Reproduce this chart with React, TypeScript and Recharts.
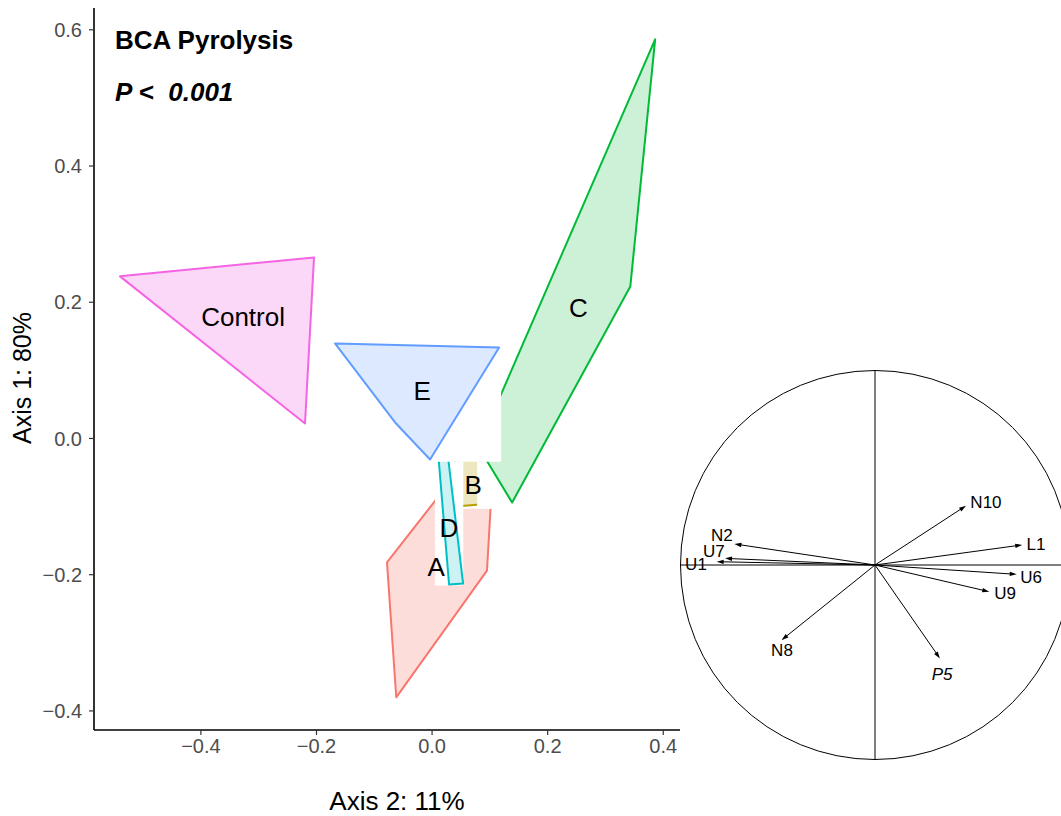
import { ScatterChart, Scatter, XAxis, YAxis, ReferenceLine } from "recharts";

const FONT = "'Liberation Sans', Arial, Helvetica, sans-serif";

// hull vertices, x = Axis 2, y = Axis 1
const hullA = [
  { x: -0.078, y: -0.182 },
  { x: -0.062, y: -0.38 },
  { x: 0.095, y: -0.194 },
  { x: 0.102, y: -0.091 },
  { x: 0.014, y: -0.082 },
];
const hullB = [
  { x: 0.04, y: 0.026 },
  { x: 0.083, y: 0.026 },
  { x: 0.083, y: -0.097 },
  { x: 0.04, y: -0.1 },
];
const hullC = [
  { x: 0.386, y: 0.586 },
  { x: 0.343, y: 0.223 },
  { x: 0.1385, y: -0.094 },
  { x: 0.08, y: -0.012 },
];
const hullD = [
  { x: 0.0087, y: -0.003 },
  { x: 0.0242, y: -0.003 },
  { x: 0.0537, y: -0.213 },
  { x: 0.0294, y: -0.2144 },
];
const hullE = [
  { x: -0.168, y: 0.1395 },
  { x: 0.116, y: 0.1336 },
  { x: -0.0035, y: -0.0308 },
  { x: -0.064, y: 0.0235 },
];
const hullControl = [
  { x: -0.54, y: 0.238 },
  { x: -0.2043, y: 0.2658 },
  { x: -0.2199, y: 0.022 },
];

// white label boxes that cover parts of the hulls: [x1, x2, y1, y2]
const box1 = [0.007, 0.1195, -0.034, 0.1];
const box2 = [0.078, 0.104, -0.103, -0.034];
const box3 = [0.005, 0.054, -0.216, -0.034];
const box4 = [0.005, 0.104, -0.103, -0.034];

const groupNames = ["Control", "E", "C", "B", "D", "A"];
const groupLabelX = [-0.327, -0.017, 0.253, 0.071, 0.029, 0.007];
const groupLabelY = [0.179, 0.069, 0.192, -0.069, -0.132, -0.189];

const xTicks = [-0.4, -0.2, 0, 0.2, 0.4];
const yTicks = [-0.4, -0.2, 0, 0.2, 0.4, 0.6];

// correlation circle
const loadingNames = ["N10", "L1", "U6", "U9", "P5", "N8", "U1", "U7", "N2"];
const loadingX = [0.467, 0.755, 0.727, 0.586, 0.333, -0.479, -0.812, -0.769, -0.721];
const loadingY = [0.304, 0.103, -0.048, -0.137, -0.479, -0.385, 0.017, 0.034, 0.108];
const loadingLabelX = [0.569, 0.826, 0.8, 0.667, 0.344, -0.477, -0.918, -0.826, -0.785];
const loadingLabelY = [0.323, 0.103, -0.062, -0.144, -0.564, -0.441, 0.004, 0.069, 0.153];

const boxPoints = (b: number[]) => [
  { x: b[0], y: b[2] },
  { x: b[1], y: b[2] },
  { x: b[1], y: b[3] },
  { x: b[0], y: b[3] },
];

// drawing order matters: the white boxes sit between some hulls
const layers = [
  { key: "A", pts: hullA, color: "#F8766D", fill: 0.25 },
  { key: "box4", pts: boxPoints(box4), color: "none", fill: 1 },
  { key: "B", pts: hullB, color: "#B79F00", fill: 0.25 },
  { key: "box2", pts: boxPoints(box2), color: "none", fill: 1 },
  { key: "box3", pts: boxPoints(box3), color: "none", fill: 1 },
  { key: "C", pts: hullC, color: "#00BA38", fill: 0.2 },
  { key: "D", pts: hullD, color: "#00BFC4", fill: 0.2 },
  { key: "box1", pts: boxPoints(box1), color: "none", fill: 1 },
  { key: "E", pts: hullE, color: "#619CFF", fill: 0.22 },
  { key: "Control", pts: hullControl, color: "#F564E3", fill: 0.25 },
];

const groupLabels = groupNames.map((name, i) => ({ name, x: groupLabelX[i], y: groupLabelY[i] }));
const loadingLabels = loadingNames.map((name, i) => ({ name, x: loadingLabelX[i], y: loadingLabelY[i] }));

const Nothing = () => <g />;

const polygonLine = (color: string, fill: number) => (p: any) => {
  const pts = (p.points || []).map((q: any) => `${q.x},${q.y}`).join(" ");
  if (color === "none") return <polygon points={pts} fill="#ffffff" stroke="none" />;
  return (
    <polygon points={pts} fill={color} fillOpacity={fill} stroke={color} strokeWidth={2} strokeLinejoin="round" />
  );
};

const circleLine = (p: any) => {
  const [c, e] = p.points;
  const r = Math.hypot(e.x - c.x, e.y - c.y);
  return <circle cx={c.x} cy={c.y} r={r - 0.5} fill="none" stroke="#000" strokeWidth={1} />;
};

const arrowLine = (p: any) => {
  const [a, b] = p.points;
  const dx = b.x - a.x;
  const dy = b.y - a.y;
  const len = Math.hypot(dx, dy);
  const ux = dx / len;
  const uy = dy / len;
  const hl = 7;
  const hw = 2.2;
  const bx = b.x - ux * hl;
  const by = b.y - uy * hl;
  const head = `${b.x},${b.y} ${bx - uy * hw},${by + ux * hw} ${bx + uy * hw},${by - ux * hw}`;
  return (
    <g>
      <line x1={a.x} y1={a.y} x2={bx + ux * 2} y2={by + uy * 2} stroke="#000" strokeWidth={1} />
      <polygon points={head} fill="#000" />
    </g>
  );
};

const GroupText = (props: any) => (
  <text x={props.cx} y={props.cy} textAnchor="middle" dominantBaseline="central" fontSize={26} fontFamily={FONT} fill="#000">
    {props.payload.name}
  </text>
);

const LoadingText = (props: any) => (
  <text
    x={props.cx}
    y={props.cy}
    textAnchor="middle"
    dominantBaseline="central"
    fontSize={17}
    fontFamily={FONT}
    fontStyle={props.payload.name === "P5" ? "italic" : "normal"}
    fill="#000"
  >
    {props.payload.name}
  </text>
);

const fmt = (v: number) => v.toFixed(1).replace("-", "\u2212");

const XTitle = (props: any) => {
  const vb = props.viewBox;
  return (
    <text x={vb.x + vb.width / 2 + 10} y={vb.y + vb.height - 6} textAnchor="middle" fontSize={26} fontFamily={FONT} fill="#000">
      Axis 2: 11%
    </text>
  );
};

const YTitle = (props: any) => {
  const vb = props.viewBox;
  const cx = vb.x + 22;
  const cy = vb.y + vb.height / 2 + 9;
  return (
    <text x={cx} y={cy} transform={`rotate(-90, ${cx}, ${cy})`} textAnchor="middle" dominantBaseline="central" fontSize={25} fontFamily={FONT} fill="#000">
      Axis 1: 80%
    </text>
  );
};

const tickStyle = { fill: "#4D4D4D", fontSize: 20, fontFamily: FONT };

export default function App() {
  return (
    <div style={{ position: "fixed", left: 0, top: 0, width: 1061, height: 816, overflow: "hidden", background: "#fff" }}>
      <div style={{ position: "absolute", left: 0, top: 0 }}>
        <ScatterChart width={690} height={816} margin={{ top: 8, right: 10, left: 0, bottom: 0 }}>
          <XAxis
            type="number"
            dataKey="x"
            domain={[-0.585, 0.429]}
            allowDataOverflow
            ticks={xTicks}
            tickFormatter={fmt}
            height={86}
            tick={tickStyle}
            tickSize={5}
            tickMargin={4}
            axisLine={{ stroke: "#000", strokeWidth: 1.6 }}
            tickLine={{ stroke: "#333", strokeWidth: 1.2 }}
            label={{ content: XTitle }}
          />
          <YAxis
            type="number"
            dataKey="y"
            domain={[-0.428, 0.632]}
            allowDataOverflow
            ticks={yTicks}
            tickFormatter={fmt}
            width={94}
            tick={tickStyle}
            tickSize={5}
            tickMargin={7}
            axisLine={{ stroke: "#000", strokeWidth: 1.6 }}
            tickLine={{ stroke: "#333", strokeWidth: 1.2 }}
            label={{ content: YTitle }}
          />
          {layers.map((l) => (
            <Scatter
              key={l.key}
              data={l.pts}
              shape={Nothing}
              line={polygonLine(l.color, l.fill)}
              isAnimationActive={false}
            />
          ))}
          <Scatter data={groupLabels} shape={GroupText} isAnimationActive={false} />
        </ScatterChart>
      </div>
      <div style={{ position: "absolute", left: 115, top: 26, fontFamily: FONT, fontWeight: "bold", fontSize: 26, lineHeight: "28px" }}>
        BCA Pyrolysis
      </div>
      <div
        style={{
          position: "absolute",
          left: 115,
          top: 78,
          fontFamily: FONT,
          fontWeight: "bold",
          fontStyle: "italic",
          fontSize: 26,
          lineHeight: "28px",
          whiteSpace: "pre",
        }}
      >
        {"P <  0.001"}
      </div>
      <div style={{ position: "absolute", left: 680, top: 370 }}>
        <ScatterChart width={390} height={390} margin={{ top: 0, right: 0, left: 0, bottom: 0 }}>
          <XAxis type="number" dataKey="x" domain={[-1, 1]} hide />
          <YAxis type="number" dataKey="y" domain={[-1, 1]} hide />
          <ReferenceLine x={0} stroke="#000" strokeWidth={1} />
          <ReferenceLine y={0} stroke="#000" strokeWidth={1} />
          <Scatter
            data={[
              { x: 0, y: 0 },
              { x: 1, y: 0 },
            ]}
            shape={Nothing}
            line={circleLine}
            isAnimationActive={false}
          />
          {loadingNames.map((n, i) => (
            <Scatter
              key={n}
              data={[
                { x: 0, y: 0 },
                { x: loadingX[i], y: loadingY[i] },
              ]}
              shape={Nothing}
              line={arrowLine}
              isAnimationActive={false}
            />
          ))}
          <Scatter data={loadingLabels} shape={LoadingText} isAnimationActive={false} />
        </ScatterChart>
      </div>
    </div>
  );
}
